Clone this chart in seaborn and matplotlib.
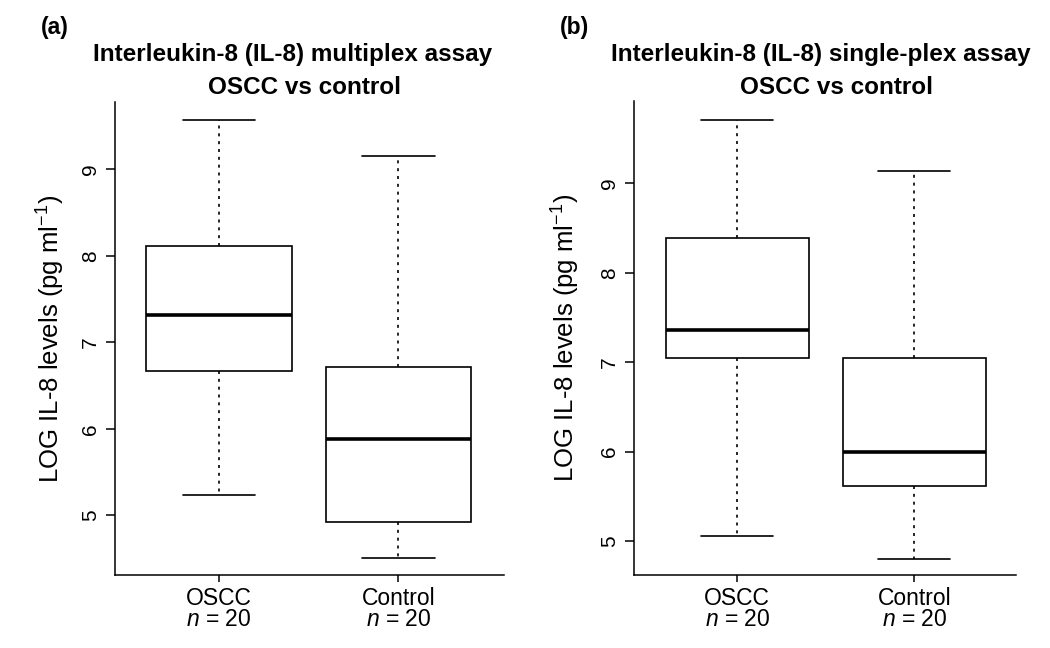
import matplotlib
matplotlib.use("Agg")
import matplotlib.pyplot as plt
import seaborn as sns
import pandas as pd

# five-number summaries: min, Q1, median, Q3, max
groups = ["OSCC", "Control"]
tick_labels = ["OSCC\n$n$ = 20", "Control\n$n$ = 20"]

multiplex_oscc = [5.23, 6.67, 7.32, 8.12, 9.57]
multiplex_control = [4.51, 4.92, 5.88, 6.71, 9.15]
singleplex_oscc = [5.06, 7.05, 7.36, 8.39, 9.71]
singleplex_control = [4.80, 5.61, 5.99, 7.05, 9.14]

title_lines = [["Interleukin-8 (IL-8) multiplex assay", "OSCC vs control"],
               ["Interleukin-8 (IL-8) single-plex assay", "OSCC vs control"]]
panel_tags = ["(a)", "(b)"]
ylabel = "LOG IL-8 levels (pg ml$^{-1}$)"

sns.set_style("ticks")
plt.rcParams["font.family"] = ["Liberation Sans", "DejaVu Sans"]
plt.rcParams["mathtext.fontset"] = "custom"
plt.rcParams["mathtext.rm"] = "Liberation Sans"
plt.rcParams["mathtext.it"] = "Liberation Sans:italic"
for key in ["text.color", "axes.labelcolor", "xtick.color", "ytick.color"]:
    plt.rcParams[key] = "black"


def make_frame(oscc, control):
    return pd.DataFrame({
        "group": ["OSCC"] * len(oscc) + ["Control"] * len(control),
        "value": oscc + control,
    })


panels = [make_frame(multiplex_oscc, multiplex_control),
          make_frame(singleplex_oscc, singleplex_control)]

W, H = 1050, 648
fig = plt.figure(figsize=(W / 100, H / 100), dpi=100)
# axes boxes in pixels: left, right, top, bottom
boxes = [(115, 504, 102, 575), (634, 1016, 101, 575)]
ylims = [(4.31, 9.78), (4.62, 9.92)]
xlims = [(-0.58, 1.59), (-0.583, 1.574)]
title_cx = [(293, 305), (821, 836)]
tag_x = [41, 560]
label_x = [-0.123, -0.137]

for i, df in enumerate(panels):
    l, r, t, b = boxes[i]
    ax = fig.add_axes([l / W, 1 - b / H, (r - l) / W, (b - t) / H])
    sns.boxplot(data=df, x="group", y="value", order=groups, ax=ax,
                whis=(0, 100), width=0.81, color="white", linecolor="black",
                linewidth=1.2,
                whiskerprops=dict(linestyle=(0, (1.8, 2.9))),
                medianprops=dict(linewidth=2.6),
                showfliers=False)
    ax.set_ylim(*ylims[i])
    ax.set_xlim(*xlims[i])
    ax.set_yticks([5, 6, 7, 8, 9])
    ax.set_xticks([0, 1])
    ax.set_xticklabels(tick_labels, fontsize=16.5, linespacing=0.92)
    ax.tick_params(axis="y", labelrotation=90, labelsize=15, length=6.5,
                   width=1.1, pad=4.5)
    ax.tick_params(axis="x", length=5, width=1.1, pad=3.5)
    for lab in ax.get_yticklabels():
        lab.set_va("center")
    ax.set_xlabel("")
    ax.set_ylabel(ylabel, fontsize=18.5)
    ax.yaxis.set_label_coords(label_x[i], 0.5)
    for side in ["top", "right"]:
        ax.spines[side].set_visible(False)
    for side in ["left", "bottom"]:
        ax.spines[side].set_linewidth(1.1)
        ax.spines[side].set_color("black")
    fig.text(title_cx[i][0] / W, 1 - 61.5 / H, title_lines[i][0], ha="center",
             va="baseline", fontsize=17.5, fontweight="bold")
    fig.text(title_cx[i][1] / W, 1 - 94 / H, title_lines[i][1], ha="center",
             va="baseline", fontsize=17.5, fontweight="bold")
    fig.text(tag_x[i] / W, 1 - 34 / H, panel_tags[i], ha="left",
             va="baseline", fontsize=16.5, fontweight="bold")

fig.savefig("out.png", dpi=100)
